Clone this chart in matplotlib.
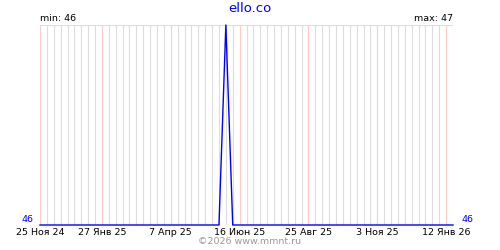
import datetime as dt
import matplotlib
matplotlib.use('Agg')
import matplotlib.pyplot as plt

# weekly samples
start = dt.date(2024, 11, 25)
weeks = [start + dt.timedelta(days=7 * i) for i in range(61)]
values = [46, 46, 46, 46, 46, 46, 46, 46, 46, 46,
          46, 46, 46, 46, 46, 46, 46, 46, 46, 46,
          46, 46, 46, 46, 46, 46, 46, 47, 46, 46,
          46, 46, 46, 46, 46, 46, 46, 46, 46, 46,
          46, 46, 46, 46, 46, 46, 46, 46, 46, 46,
          46, 46, 46, 46, 46, 46, 46, 46, 46, 46,
          46]
tick_dates = [dt.date(2024, 11, 25), dt.date(2025, 1, 27), dt.date(2025, 4, 7),
              dt.date(2025, 6, 16), dt.date(2025, 8, 25), dt.date(2025, 11, 3),
              dt.date(2026, 1, 12)]
tick_labels = ['25 Ноя 24', '27 Янв 25', '7 Апр 25', '16 Июн 25',
               '25 Авг 25', '3 Ноя 25', '12 Янв 26']
title = 'ello.co'
vmin, vmax = 46, 47

plt.rcParams['font.family'] = ['DejaVu Sans']
fig = plt.figure(figsize=(5, 2.5), dpi=100)
ax = fig.add_axes([40 / 500, 0.1, 413 / 500, 0.8])

for d in weeks:
    ax.axvline(d, color='#dddddd', lw=0.8, zorder=1)
for d in tick_dates:
    ax.axvline(d, color='#ffcccc', lw=0.8, zorder=2)
ax.axhline(vmax, color='#dddddd', lw=0.8, zorder=1)

ax.plot(weeks, values, color='#0000ff', lw=1.0, zorder=3, clip_on=False)

ax.set_xlim(weeks[0], weeks[-1])
ax.set_ylim(vmin, vmax)
for s in ax.spines.values():
    s.set_visible(False)
ax.set_yticks([])
ax.set_xticks(tick_dates)
ax.set_xticklabels(tick_labels, fontsize=6.8)
ax.tick_params(axis='x', length=0, pad=2)

fig.text(0.5, 0.966, title, color='#0000ff', fontsize=9.5, ha='center', va='center')
fig.text(40 / 500, 0.925, 'min: %d' % min(values), fontsize=6.8, ha='left', va='center')
fig.text(453 / 500, 0.925, 'max: %d' % max(values), fontsize=6.8, ha='right', va='center')
fig.text(33 / 500, 0.102, '%d' % values[0], color='#0000ff', fontsize=6.8, ha='right', va='bottom')
fig.text(462 / 500, 0.102, '%d' % values[-1], color='#0000ff', fontsize=6.8, ha='left', va='bottom')
fig.text(0.5, 0.032, '©2026 www.mmnt.ru', color='#999999', fontsize=6.8, ha='center', va='center')

fig.savefig('out.png', dpi=100)
